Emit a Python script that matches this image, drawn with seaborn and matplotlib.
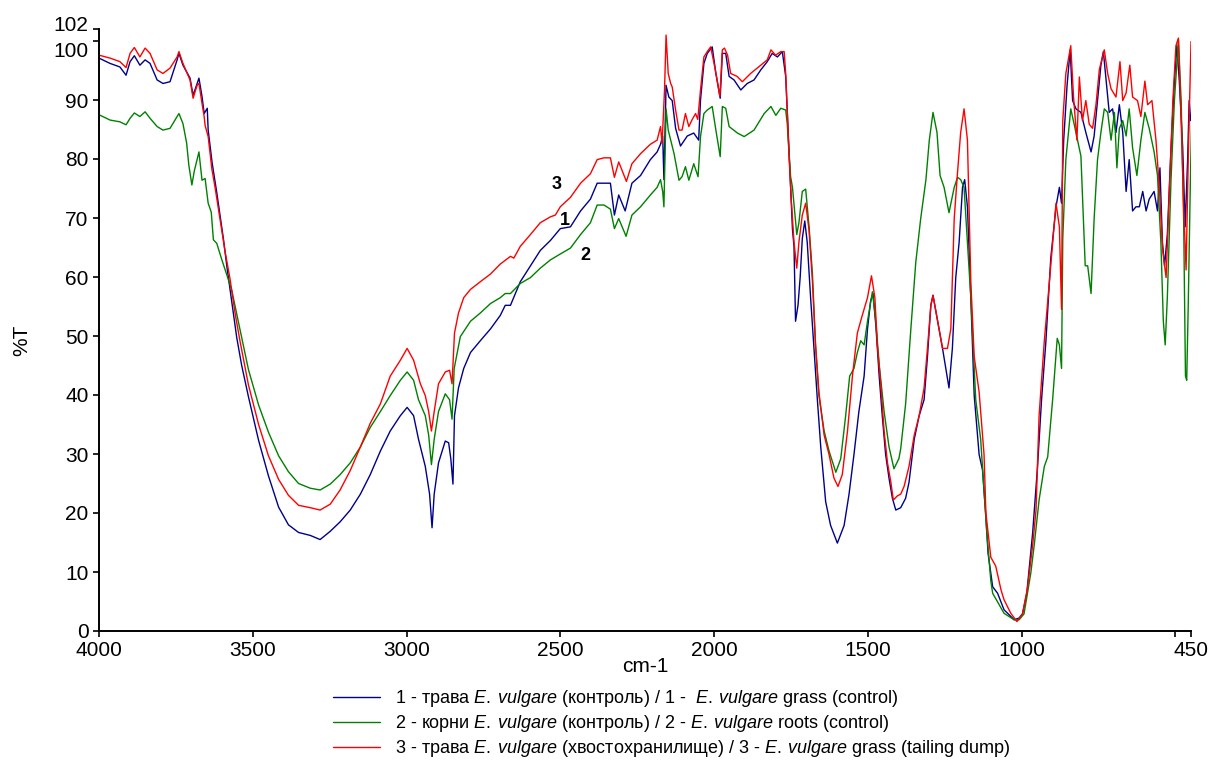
import numpy as np
import pandas as pd
import matplotlib
matplotlib.use("Agg")
import matplotlib.pyplot as plt
import matplotlib.transforms as mtransforms
import seaborn as sns

# ---- data: wavenumber (cm-1) and %T for each spectrum ----
wn1 = [4000,3964,3932,3912,3899,3885,3867,3850,3834,3811,3792,3769,3746,3740,3727,3704,3694,3681,3675,3665,3658,3648,3645,3632,3617,3606,3595,3584,3568,3552,3536,3514,3481,3449,3416,3384,3351,3313,3281,3248,3216,3183,3150,3118,3085,3053,3020,2998,2977,2961,2939,2925,2917,2910,2896,2874,2863,2856,2849,2844,2831,2814,2792,2760,2727,2695,2679,2662,2630,2597,2565,2532,2500,2467,2434,2402,2380,2358,2337,2324,2310,2289,2267,2239,2207,2185,2174,2167,2163,2156,2147,2136,2125,2109,2087,2066,2050,2044,2033,2022,2006,1994,1980,1973,1962,1951,1935,1913,1892,1870,1848,1827,1811,1794,1778,1767,1762,1756,1751,1745,1740,1735,1727,1720,1713,1705,1697,1686,1675,1664,1653,1637,1621,1599,1577,1561,1545,1529,1512,1501,1491,1483,1474,1463,1453,1442,1431,1420,1409,1393,1377,1366,1349,1333,1317,1306,1295,1288,1273,1257,1236,1225,1214,1203,1192,1185,1176,1165,1154,1138,1127,1116,1109,1094,1078,1057,1024,1008,997,983,964,948,935,921,905,888,877,870,863,852,842,834,823,807,791,774,764,753,742,734,726,715,704,693,682,671,660,650,639,628,617,606,595,585,569,558,550,542,535,526,514,503,495,487,476,468,460,455,450]
t1 = [97.1,96.2,95.6,94.2,96.5,97.5,95.9,96.8,96.2,93.4,92.8,93.1,96.8,97.9,95.9,93.7,90.8,92.8,93.7,90.6,87.7,88.6,84.9,79.3,74.3,70.3,66.3,61.7,55.7,49.7,45.0,39.7,32.3,26.3,21.0,18.0,16.7,16.2,15.5,16.9,18.5,20.5,23.2,26.5,30.5,33.9,36.5,37.9,36.5,32.5,27.9,23.2,17.5,23.2,28.5,32.2,31.9,29.2,24.9,36.5,41.2,44.5,47.2,49.2,51.2,53.5,55.2,55.2,59.2,61.9,64.5,66.2,68.2,68.5,71.2,73.2,75.9,75.9,75.9,70.5,73.9,71.2,75.9,77.2,79.9,81.2,82.5,83.9,76.5,92.5,90.5,89.9,85.2,82.2,83.9,84.4,83.2,90.0,96.2,97.9,99.0,94.5,90.3,97.9,97.9,94.0,93.4,91.7,92.8,93.4,95.1,96.5,97.9,97.3,98.2,94.0,88.3,81.5,75.3,68.1,65.2,52.5,55.2,59.9,66.5,69.5,65.9,56.5,47.9,39.2,31.2,21.9,17.9,14.9,17.9,23.2,29.9,37.2,43.2,51.2,55.9,57.2,51.9,43.2,36.5,29.9,25.9,22.5,20.5,20.9,22.5,25.2,32.5,36.5,39.2,46.5,55.2,56.9,52.5,47.9,41.2,47.9,59.9,65.9,75.2,76.5,71.9,56.5,39.9,29.9,27.3,19.4,13.2,7.5,6.4,3.6,1.9,2.2,2.9,6.4,16.6,27.9,39.2,49.0,63.2,71.9,75.2,72.5,83.2,92.5,98.5,89.9,88.5,87.9,84.5,81.2,83.9,89.9,95.9,98.2,93.9,87.9,88.5,84.5,89.2,84.5,74.5,79.9,71.2,71.9,71.9,74.5,71.2,73.2,74.5,71.2,78.5,65.9,61.9,67.2,81.9,93.2,99.2,93.2,81.9,68.5,79.9,89.9,86.5]

wn2 = [4000,3964,3932,3912,3899,3885,3867,3850,3834,3811,3792,3769,3746,3740,3727,3715,3708,3698,3690,3675,3665,3655,3645,3635,3628,3617,3601,3584,3568,3552,3536,3514,3481,3449,3416,3384,3351,3313,3281,3248,3216,3183,3150,3118,3085,3053,3020,2998,2977,2961,2939,2928,2919,2910,2896,2874,2860,2852,2845,2825,2792,2760,2727,2695,2679,2662,2630,2597,2565,2532,2500,2467,2434,2402,2380,2358,2337,2324,2310,2286,2267,2239,2207,2185,2174,2167,2163,2156,2149,2141,2130,2114,2104,2093,2082,2066,2052,2044,2033,2022,2006,1994,1980,1973,1962,1951,1924,1902,1870,1837,1815,1799,1783,1767,1762,1756,1751,1745,1738,1731,1724,1713,1702,1691,1680,1670,1659,1642,1626,1604,1588,1572,1559,1545,1534,1523,1512,1501,1485,1474,1463,1447,1431,1415,1399,1393,1377,1360,1344,1328,1311,1300,1288,1275,1265,1252,1236,1219,1208,1198,1187,1176,1165,1154,1149,1133,1127,1113,1100,1094,1057,1024,1008,992,970,959,943,926,915,899,884,877,870,866,856,840,829,818,807,798,793,785,774,764,753,742,731,720,709,698,690,682,671,660,650,639,625,612,599,585,569,558,547,539,533,526,514,503,490,481,473,467,463,458,451,447]
t2 = [87.5,86.6,86.3,85.8,86.9,87.8,87.2,88.0,86.9,85.5,84.9,85.2,87.2,87.7,86.0,82.7,79.0,75.6,78.0,81.2,76.4,76.7,72.5,71.0,66.3,65.7,63.0,60.3,57.7,53.7,49.7,44.3,38.3,33.7,29.7,27.0,25.0,24.2,23.9,24.9,26.5,28.5,31.2,34.5,37.2,39.9,42.5,43.9,42.5,39.2,36.5,33.2,28.2,32.5,37.2,40.2,39.2,35.9,44.5,49.9,52.5,53.9,55.5,56.5,57.2,57.2,58.9,59.9,61.5,62.9,63.9,64.9,67.2,69.2,72.2,72.2,71.5,68.2,69.9,66.9,70.5,71.9,73.9,75.2,76.5,74.5,71.9,88.5,84.9,83.2,80.9,76.4,77.0,78.7,76.4,79.2,77.0,83.8,87.7,88.3,88.9,84.9,80.4,88.9,88.6,85.5,84.4,83.8,84.9,87.7,88.9,87.4,88.6,88.3,86.0,80.9,77.0,75.2,71.2,67.2,69.2,74.5,74.9,68.5,60.5,48.5,39.9,33.9,30.5,26.9,29.2,36.5,43.2,44.5,47.2,49.2,48.5,52.5,57.5,52.5,45.2,37.2,31.2,27.5,29.2,30.9,38.5,51.2,62.5,69.9,76.5,83.2,87.9,84.5,77.2,75.2,70.9,75.2,76.9,76.5,75.2,65.9,56.5,44.5,39.2,32.5,27.9,16.6,8.5,6.4,3.0,1.9,1.9,2.9,9.8,14.5,22.2,27.9,29.5,39.2,49.6,48.5,44.5,66.5,79.9,88.5,85.9,83.2,80.5,68.5,61.9,61.9,57.2,69.9,79.9,84.5,88.5,87.9,83.2,87.9,78.5,85.2,86.5,83.9,88.5,81.9,77.2,83.2,87.9,85.2,81.2,77.2,65.9,52.5,48.5,56.5,76.5,89.9,100.2,89.9,69.9,43.2,42.5,55.2,76.5,86.5]

wn3 = [4000,3964,3932,3912,3899,3885,3867,3850,3834,3811,3792,3769,3746,3740,3727,3704,3694,3681,3675,3665,3658,3655,3645,3633,3622,3606,3590,3574,3557,3541,3514,3481,3449,3416,3384,3351,3313,3281,3248,3216,3183,3150,3118,3085,3053,3020,2998,2977,2955,2939,2928,2919,2910,2896,2874,2860,2852,2844,2831,2814,2792,2760,2727,2695,2662,2651,2630,2597,2565,2532,2516,2500,2467,2434,2402,2380,2358,2337,2324,2310,2285,2267,2239,2207,2185,2174,2169,2161,2156,2149,2141,2136,2125,2114,2104,2093,2082,2071,2060,2053,2044,2033,2022,2011,2000,1990,1981,1973,1966,1956,1946,1925,1908,1881,1848,1827,1815,1800,1783,1772,1767,1762,1756,1749,1740,1731,1724,1713,1702,1691,1680,1670,1659,1642,1626,1610,1597,1583,1566,1550,1534,1518,1501,1488,1477,1469,1458,1447,1436,1425,1417,1404,1393,1382,1366,1349,1333,1317,1306,1295,1288,1273,1257,1241,1230,1219,1208,1198,1187,1176,1165,1154,1138,1122,1116,1100,1084,1067,1057,1035,1015,997,981,964,953,943,926,916,905,888,877,870,866,856,840,831,820,812,802,791,780,769,758,747,731,720,709,693,680,671,660,648,639,623,612,599,590,576,563,552,541,530,519,508,498,490,481,473,465,458,452,449]
t3 = [97.6,97.1,96.5,95.5,97.9,98.9,97.3,98.8,97.9,95.1,94.5,95.4,97.3,98.2,96.2,93.4,90.3,92.5,92.8,89.4,87.2,85.7,83.8,78.3,75.0,69.7,64.3,59.7,53.7,49.0,41.7,35.0,29.7,25.7,23.0,21.3,20.9,20.5,21.5,23.9,27.2,31.2,35.2,38.5,43.2,45.9,47.9,45.9,41.9,39.9,37.2,33.9,37.2,41.9,43.9,44.2,41.9,50.5,53.9,56.5,57.9,59.2,60.5,62.2,63.5,63.2,65.2,67.2,69.2,70.2,70.5,71.9,73.5,75.9,77.5,79.9,80.2,80.2,76.9,79.5,76.2,79.2,80.9,82.5,83.2,85.5,82.6,91.7,101.0,94.5,92.8,92.2,88.3,84.9,84.9,87.7,85.5,86.7,87.7,86.7,91.7,97.3,98.2,99.0,96.2,93.4,90.6,98.5,98.8,97.6,94.5,94.0,93.1,94.5,95.9,96.8,98.5,97.6,98.2,98.2,94.5,88.3,80.5,73.2,65.9,61.5,65.9,70.5,72.5,67.9,59.2,48.5,40.5,33.2,29.9,25.9,24.5,26.5,33.9,43.2,50.5,53.5,56.5,60.2,56.5,48.5,41.9,33.9,28.5,25.2,22.2,22.9,23.2,24.5,27.9,33.2,36.5,41.2,47.9,55.2,56.9,52.5,47.9,47.9,51.2,69.9,77.9,84.5,88.5,83.2,59.2,46.5,40.5,29.9,20.0,12.5,11.0,7.0,5.3,3.0,1.6,2.9,7.2,14.5,20.5,36.5,49.2,55.2,61.9,72.5,68.5,54.5,86.5,94.5,99.2,90.5,83.2,93.9,86.5,89.9,85.9,85.2,89.2,95.2,98.5,94.5,91.9,90.5,96.5,89.9,91.2,95.9,90.5,89.9,87.2,93.2,89.2,89.9,83.2,75.2,64.5,59.9,75.2,89.9,99.2,100.5,86.5,71.9,61.2,79.9,93.2,99.9]

labels = [
    r"1 - трава $\mathit{E.\:vulgare}$ (контроль) / 1 -  $\mathit{E.\:vulgare}$ grass (control)",
    r"2 - корни $\mathit{E.\:vulgare}$ (контроль) / 2 - $\mathit{E.\:vulgare}$ roots (control)",
    r"3 - трава $\mathit{E.\:vulgare}$ (хвостохранилище) / 3 - $\mathit{E.\:vulgare}$ grass (tailing dump)",
]
colors = ["#00008B", "#008000", "#FF0000"]
x_ticks = [4000, 3500, 3000, 2500, 2000, 1500, 1000, 500, 450]
x_ticklabels = ["4000", "3500", "3000", "2500", "2000", "1500", "1000", "", "450"]
y_ticks = [0, 10, 20, 30, 40, 50, 60, 70, 80, 90, 100, 102]
curve_marks = [("3", 2512, 75.7), ("1", 2486, 69.6), ("2", 2418, 63.7)]

df = pd.concat([
    pd.DataFrame({"wn": wn1, "T": t1, "series": labels[0]}),
    pd.DataFrame({"wn": wn2, "T": t2, "series": labels[1]}),
    pd.DataFrame({"wn": wn3, "T": t3, "series": labels[2]}),
], ignore_index=True)

sns.set_theme(style="ticks")
plt.rcParams["font.family"] = ["Liberation Sans", "DejaVu Sans"]
plt.rcParams["mathtext.fontset"] = "custom"
plt.rcParams["mathtext.rm"] = "Liberation Sans"
plt.rcParams["mathtext.it"] = "Liberation Sans:italic"
plt.rcParams["text.color"] = "black"
plt.rcParams["axes.labelcolor"] = "black"
plt.rcParams["xtick.color"] = "black"
plt.rcParams["ytick.color"] = "black"

fig = plt.figure(figsize=(12.11, 7.62), dpi=100)
ax = fig.add_axes([99/1211, 1-631/762, (1190.7-99)/1211, (631-29.2)/762])

sns.lineplot(data=df, x="wn", y="T", hue="series", hue_order=labels,
             palette=colors, estimator=None, sort=True, linewidth=1.0, ax=ax)

ax.set_xlim(4000, 450)
ax.set_ylim(0, 102)
ax.set_xticks(x_ticks)
ax.set_xticklabels(x_ticklabels)
ax.set_yticks(y_ticks)
ax.tick_params(axis="both", labelsize=15, length=4, width=1.2, color="black", labelcolor="black")
for s in ["top", "right"]:
    ax.spines[s].set_visible(False)
for s in ["left", "bottom"]:
    ax.spines[s].set_linewidth(1.4)
    ax.spines[s].set_color("black")
ax.set_xlabel("")
ax.set_ylabel("")

# nudge the crowded 100 / 102 labels apart as in the reference
for tk, val in zip(ax.yaxis.get_major_ticks(), y_ticks):
    if val == 100:
        tk.label1.set_transform(tk.label1.get_transform() +
                                mtransforms.ScaledTranslation(0, -6/72, fig.dpi_scale_trans))
    elif val == 102:
        tk.label1.set_transform(tk.label1.get_transform() +
                                mtransforms.ScaledTranslation(0, 4/72, fig.dpi_scale_trans))

for txt, x, y in curve_marks:
    ax.text(x, y, txt, fontsize=13, fontweight="bold", ha="center", va="center", color="black")

fig.text(22/1211, 1-340/762, "%T", rotation=90, fontsize=15, ha="center", va="center", color="black")
fig.text(645/1211, 1-666/762, "cm-1", fontsize=15, ha="center", va="center", color="black")

handles, labs = ax.get_legend_handles_labels()
if ax.get_legend() is not None:
    ax.get_legend().remove()
leg = fig.legend(handles, labs, loc="upper left", bbox_to_anchor=(333/1211, 1-688/762),
                 frameon=False, fontsize=13, handlelength=2.6, handletextpad=0.85,
                 labelspacing=0.22, borderpad=0, borderaxespad=0)
for t in leg.get_texts():
    t.set_color("black")

fig.savefig("out.png", dpi=100, facecolor="white")
